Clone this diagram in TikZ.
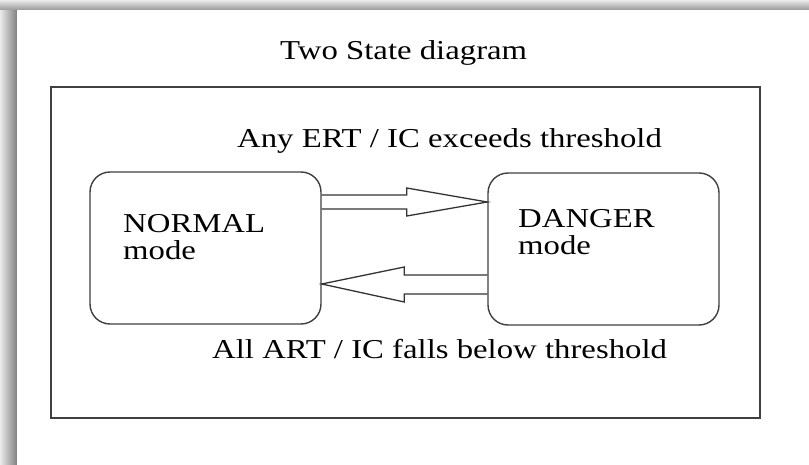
\documentclass[tikz,border=0pt]{standalone}
\usepackage{fontspec}
\setmainfont[FakeStretch=1.2]{Liberation Serif}
\usetikzlibrary{calc}
\begin{document}
\begin{tikzpicture}[x=1pt,y=-1pt,
  txt/.style={inner sep=0pt,font=\fontsize{27.3}{27}\selectfont,text=black},
  statebox/.style={draw=black!75,line width=1.4pt,rounded corners=20pt,minimum width=231pt,minimum height=152pt,inner sep=0pt},
  blockline/.style={draw=black!80,line width=1.3pt,line join=miter}]
\useasboundingbox (0,0) rectangle (809,465);
% page shadow
\shade[left color=black!8,right color=black!50] (0,0) rectangle (17,465);
\shade[top color=black!8,bottom color=black!40] (0,0) rectangle (809,10);
\fill[white] (17,10) rectangle (809,465);
% frame
\node[draw=black!75,line width=1.4pt,minimum width=709pt,minimum height=331pt,inner sep=0pt] (frame) at (405.5,252.5) {};
% title and labels
\node[txt,anchor=base west] (title) at (280,60) {Two State diagram};
\node[txt,anchor=base west] (lab1) at (237,148) {Any ERT / IC exceeds threshold};
\node[txt,anchor=base west] (lab2) at (212,358) {All ART / IC falls below threshold};
% states
\node[statebox] (normal) at (205.5,248) {};
\node[statebox] (danger) at (603.5,249) {};
\node[txt,anchor=base west] (ntxt1) at (123,233) {NORMAL};
\node[txt,anchor=base west] (ntxt2) at (123,260) {mode};
\node[txt,anchor=base west] (dtxt1) at (518,228) {DANGER};
\node[txt,anchor=base west] (dtxt2) at (518,255) {mode};
% block arrows
\draw[blockline] ($(normal.east)+(0,-53)$) -- ($(normal.east)+(85,-53)$) -- ($(normal.east)+(85,-60)$)
  -- ($(danger.west)+(0,-47)$) -- ($(normal.east)+(85,-32)$) -- ($(normal.east)+(85,-39)$) -- ($(normal.east)+(0,-39)$);
\draw[blockline] ($(danger.west)+(0,26)$) -- ($(danger.west)+(-83,26)$) -- ($(danger.west)+(-83,18)$)
  -- ($(normal.east)+(0,36)$) -- ($(danger.west)+(-83,53)$) -- ($(danger.west)+(-83,45)$) -- ($(danger.west)+(0,45)$);
\end{tikzpicture}
\end{document}
